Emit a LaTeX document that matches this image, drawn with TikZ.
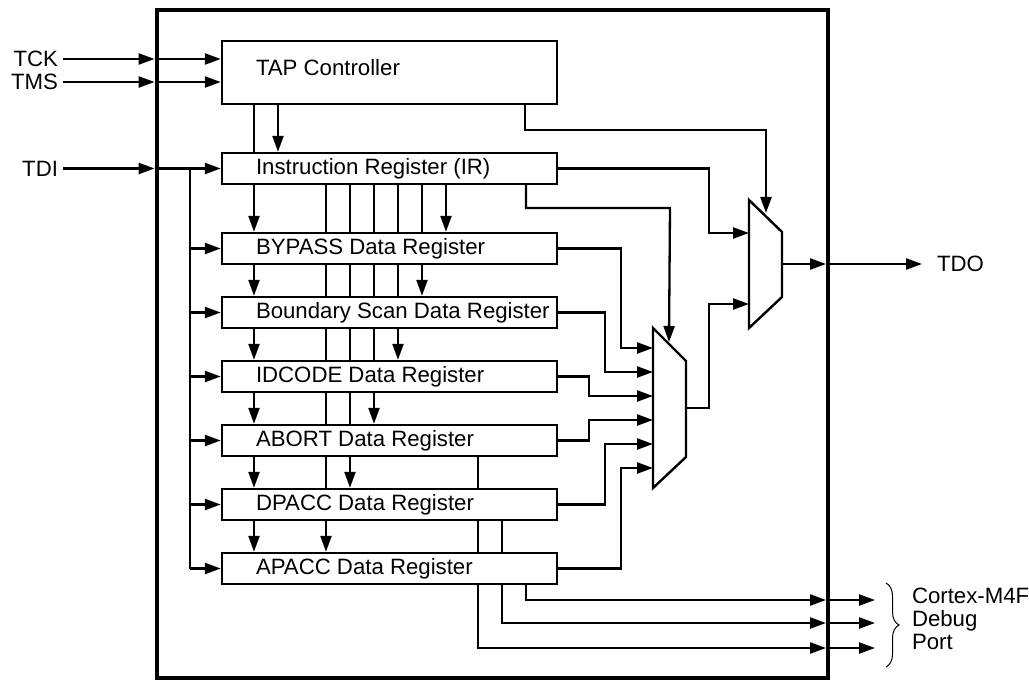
\documentclass[tikz,border=0pt]{standalone}
\usepackage{fontspec}
\setmainfont{Liberation Sans}
\usetikzlibrary{arrows.meta,backgrounds,decorations.pathreplacing,calc}
\newcommand{\labfont}{\fontsize{22.2pt}{23pt}\selectfont}
\begin{document}
\begin{tikzpicture}[x=1pt,y=-1pt,
  ln/.style={line width=2.3pt},
  arr/.style={line width=2.3pt,-{Triangle[length=16pt,width=11pt]}},
  reg/.style={draw,fill=white,line width=2.4pt,minimum width=335pt,minimum height=31pt,inner sep=0pt},
  lab/.style={anchor=west,xshift=35pt,inner sep=0pt,font=\labfont},
  txt/.style={inner sep=0pt,outer sep=5pt,font=\labfont},
  mux/.style={line width=2.4pt,fill=white}]
\useasboundingbox (0,0) rectangle (1029,682);
\node[draw,line width=4.8pt,minimum width=671pt,minimum height=668pt,inner sep=0pt] (chip) at (492.5,344) {};
% registers
\node[reg,minimum height=63pt,label={[lab,yshift=4.5pt]west:TAP Controller}] (tap) at (389.5,72.5) {};
\node[reg,label={[lab]west:Instruction Register (IR)}] (ir) at (389.5,168.5) {};
\node[reg,label={[lab]west:BYPASS Data Register}] (bypass) at (389.5,248.5) {};
\node[reg,label={[lab]west:Boundary Scan Data Register}] (bscan) at (389.5,312.5) {};
\node[reg,label={[lab]west:IDCODE Data Register}] (idcode) at (389.5,376.5) {};
\node[reg,label={[lab]west:ABORT Data Register}] (abort) at (389.5,440.5) {};
\node[reg,label={[lab]west:DPACC Data Register}] (dpacc) at (389.5,504.5) {};
\node[reg,label={[lab]west:APACC Data Register}] (apacc) at (389.5,568.5) {};
% x positions
\foreach \x in {190,254,278,326,350,374,398,422,446,478,502,525,526,589,605,621,709}
  \coordinate (c\x) at (\x,0);
% external labels
\node[txt,anchor=east] (tck) at (63,59) {TCK};
\node[txt,anchor=east] (tms) at (63,82) {TMS};
\node[txt,anchor=east] (tdi) at (63,168.5) {TDI};
\node[txt,anchor=west,outer sep=0pt] (tdo) at (937,264) {TDO};
\node[txt,anchor=west,align=left,outer sep=0pt] (dbg) at (912,619) {Cortex-M4F\\Debug\\Port};
% muxes
\draw[mux] (653,328) -- (686,361) -- (686,457) -- (653,488) -- cycle;
\draw[mux] (749,200) -- (782,232) -- (782,297) -- (749,328) -- cycle;
\coordinate (m1in1) at (653,348);
\coordinate (m1in2) at (653,372);
\coordinate (m1in3) at (653,396);
\coordinate (m1in4) at (653,420);
\coordinate (m1in5) at (653,444);
\coordinate (m1in6) at (653,468);
\coordinate (m1out) at (686,408);
\coordinate (m1sel) at (669,342);
\coordinate (m2in1) at (749,233);
\coordinate (m2in2) at (749,304);
\coordinate (m2out) at (782,264);
\coordinate (m2sel) at (766,213);
\coordinate (k1) at (670,208);
\coordinate (k2) at (766,130);
\coordinate (q0) at (826,264);
\coordinate (q1) at (826,600);
\coordinate (q2) at (826,623);
\coordinate (q3) at (826,648);
\coordinate (e0) at (922,264);
\coordinate (e1) at (875,600);
\coordinate (e2) at (875,623);
\coordinate (e3) at (875,648);
% inputs
\draw[arr] (tck) -- (tck -| chip.west);
\draw[arr] (tck -| chip.west) -- (tck -| tap.west);
\draw[arr] (tms) -- (tms -| chip.west);
\draw[arr] (tms -| chip.west) -- (tms -| tap.west);
\draw[arr] (tdi) -- (tdi -| chip.west);
\draw[arr] (tdi -| chip.west) -- (ir.west);
\draw[ln] (c190 |- ir.west) -- (c190 |- apacc.west);
\foreach \r in {bypass,bscan,idcode,abort,dpacc,apacc}
  \draw[arr] (c190 |- \r.west) -- (\r.west);
% control chain
\draw[ln] (c254 |- tap.south) -- (c254 |- ir.north);
\draw[arr] (c278 |- tap.south) -- (c278 |- ir.north);
\draw[arr] (c254 |- ir.south) -- (c254 |- bypass.north);
\draw[arr] (c254 |- bypass.south) -- (c254 |- bscan.north);
\draw[arr] (c254 |- bscan.south) -- (c254 |- idcode.north);
\draw[arr] (c254 |- idcode.south) -- (c254 |- abort.north);
\draw[arr] (c254 |- abort.south) -- (c254 |- dpacc.north);
\draw[arr] (c254 |- dpacc.south) -- (c254 |- apacc.north);
\begin{scope}[on background layer]
  \draw[arr] (c326 |- ir.south) -- (c326 |- apacc.north);
  \draw[arr] (c350 |- ir.south) -- (c350 |- dpacc.north);
  \draw[arr] (c374 |- ir.south) -- (c374 |- abort.north);
  \draw[arr] (c398 |- ir.south) -- (c398 |- idcode.north);
  \draw[arr] (c422 |- ir.south) -- (c422 |- bscan.north);
  \draw[arr] (c446 |- ir.south) -- (c446 |- bypass.north);
  \draw[arr] (c478 |- abort.south) |- (q3);
  \draw[arr] (c502 |- dpacc.south) |- (q2);
\end{scope}
\draw[arr] (c526 |- apacc.south) |- (q1);
\draw[arr] (q1) -- (e1);
\draw[arr] (q2) -- (e2);
\draw[arr] (q3) -- (e3);
% mux1 inputs
\draw[arr] (bypass.east) -| (c621 |- m1in1) -- (m1in1);
\draw[arr] (bscan.east) -| (c605 |- m1in2) -- (m1in2);
\draw[arr] (idcode.east) -| (c589 |- m1in3) -- (m1in3);
\draw[arr] (abort.east) -| (c589 |- m1in4) -- (m1in4);
\draw[arr] (dpacc.east) -| (c605 |- m1in5) -- (m1in5);
\draw[arr] (apacc.east) -| (c621 |- m1in6) -- (m1in6);
% selects and mux2
\draw[arr] (c526 |- ir.south) |- (k1) -- (m1sel);
\draw[arr] (c525 |- tap.south) |- (k2) -- (m2sel);
\draw[arr] (ir.east) -| (c709 |- m2in1) -- (m2in1);
\draw[arr] (m1out) -| (c709 |- m2in2) -- (m2in2);
\draw[arr] (m2out) -- (q0);
\draw[arr] (q0) -- (e0);
% brace
\draw[line width=1pt,decorate,decoration={brace,amplitude=13pt}] (886,583) -- (886,667);
\end{tikzpicture}
\end{document}
